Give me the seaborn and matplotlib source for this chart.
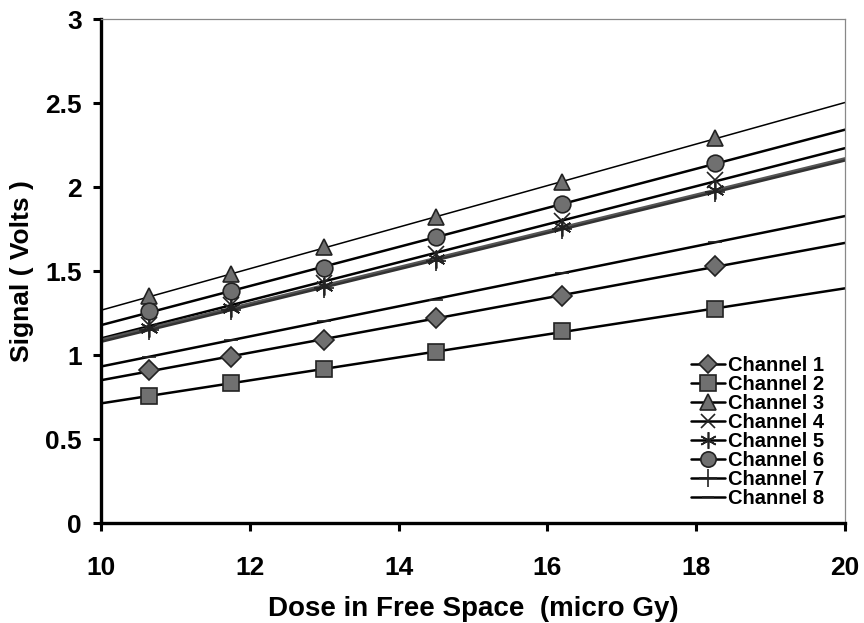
import matplotlib
matplotlib.use("Agg")
import matplotlib.pyplot as plt
from matplotlib.lines import Line2D
import seaborn as sns

# data
dose = [10.65, 11.75, 13.0, 14.5, 16.2, 18.25]
ch1 = [0.91, 0.99, 1.09, 1.22, 1.35, 1.53]
ch2 = [0.755, 0.835, 0.915, 1.02, 1.14, 1.275]
ch3 = [1.35, 1.48, 1.64, 1.82, 2.03, 2.29]
ch4 = [1.18, 1.30, 1.43, 1.60, 1.80, 2.04]
ch5 = [1.16, 1.28, 1.41, 1.57, 1.76, 1.98]
ch6 = [1.26, 1.38, 1.52, 1.70, 1.90, 2.14]
ch7 = [1.15, 1.27, 1.40, 1.56, 1.75, 1.97]
ch8 = [0.99, 1.09, 1.20, 1.33, 1.49, 1.67]
labels = ["Channel 1", "Channel 2", "Channel 3", "Channel 4",
          "Channel 5", "Channel 6", "Channel 7", "Channel 8"]
x_ticks = [10, 12, 14, 16, 18, 20]
y_ticks = [0, 0.5, 1, 1.5, 2, 2.5, 3]
y_tick_labels = ["0", "0.5", "1", "1.5", "2", "2.5", "3"]

sns.set_style("white")
plt.rcParams["font.family"] = ["Liberation Sans", "DejaVu Sans"]
plt.rcParams["font.weight"] = "bold"
# plain black text like the scanned original
plt.rcParams["text.color"] = "black"
plt.rcParams["axes.labelcolor"] = "black"
plt.rcParams["xtick.color"] = "black"
plt.rcParams["ytick.color"] = "black"

series = [ch1, ch2, ch3, ch4, ch5, ch6, ch7, ch8]
markers = ["D", "s", "^", "x", (6, 2, 0), "o", "+", "_"]
sizes = [10, 12, 12, 11, 13, 12, 14, 10]
line_w = [1.8, 1.8, 1.1, 1.8, 2.4, 1.8, 1.8, 1.8]
line_c = ["black", "black", "black", "black", "#555555", "black", "#333333", "black"]

fig = plt.figure(figsize=(8.64, 6.23), dpi=100)
ax = fig.add_axes([0.117, 0.1605, 0.861, 0.809])
ax.set_xlim(10, 20)
ax.set_ylim(0, 3)

handles = []
for vals, mk, ms, lw, lc, lab in zip(series, markers, sizes, line_w, line_c, labels):
    # linear trend line stretched over the whole x range
    sns.regplot(x=dose, y=vals, ax=ax, scatter=False, ci=None, truncate=False,
                line_kws=dict(color=lc, lw=lw, zorder=2))
    ax.plot(dose, vals, linestyle="none", marker=mk, markersize=ms,
            markerfacecolor="#707070", markeredgecolor="#222222",
            markeredgewidth=1.2, zorder=3)
    handles.append(Line2D([], [], color="black", lw=1.8, marker=mk, markersize=ms - 1,
                          markerfacecolor="#707070", markeredgecolor="#222222",
                          markeredgewidth=1.2, label=lab))

ax.set_xticks(x_ticks)
ax.set_yticks(y_ticks)
ax.set_yticklabels(y_tick_labels)
ax.tick_params(axis="both", labelsize=19, length=6, width=2.2, direction="out",
               left=True, bottom=True, color="black", labelcolor="black")
ax.tick_params(axis="x", pad=18)
ax.tick_params(axis="y", pad=8)
for t in ax.get_xticklabels() + ax.get_yticklabels():
    t.set_fontweight("bold")

for side in ["left", "bottom"]:
    ax.spines[side].set_linewidth(2.4)
    ax.spines[side].set_color("black")
for side in ["top", "right"]:
    ax.spines[side].set_linewidth(0.9)
    ax.spines[side].set_color("#888888")

ax.set_xlabel("Dose in Free Space  (micro Gy)", fontsize=20, fontweight="bold", labelpad=11)
ax.set_ylabel("Signal ( Volts )", fontsize=19, fontweight="bold", labelpad=8)

ax.legend(handles=handles, loc="lower right", bbox_to_anchor=(0.972, 0.029),
          frameon=False, prop={"weight": "bold", "size": 14.5},
          handlelength=1.7, handletextpad=0.15, labelspacing=0.0,
          borderpad=0.0, borderaxespad=0.0)

fig.savefig("out.png", dpi=100)
